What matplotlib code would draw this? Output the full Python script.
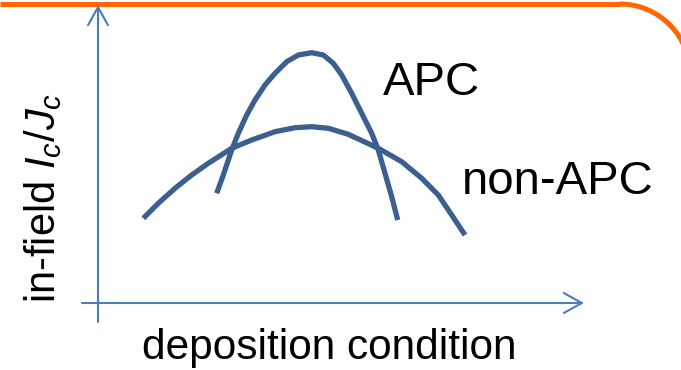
import matplotlib
matplotlib.use("Agg")
import matplotlib.pyplot as plt
from matplotlib.patches import Arc

plt.rcParams['font.family'] = ['Liberation Sans', 'DejaVu Sans']
plt.rcParams['mathtext.fontset'] = 'custom'
plt.rcParams['mathtext.rm'] = 'Liberation Sans'
plt.rcParams['mathtext.it'] = 'Liberation Sans:italic'

# Curves (x: deposition condition, y: in-field Ic/Jc, arbitrary units)
apc_x = [118.7, 125.3, 133.7, 140.3, 148.7, 157, 167, 177, 188.7, 200.3, 213.7,
         225.3, 235.3, 243.7, 253.7, 263.7, 273.7, 280.3, 287, 293.7, 299.7]
apc_y = [109.7, 128, 153, 169.7, 188, 203, 218, 229.7, 241.3, 248, 250.3,
         248, 239.7, 228, 209.7, 189.7, 169.7, 153, 129.7, 106.3, 83]
non_x = [45.3, 60.3, 77, 93.7, 110.3, 133.7, 153.7, 177, 197, 213.7, 230.3,
         250.3, 280.3, 303.7, 323.7, 340.3, 353.7, 367]
non_y = [84.7, 99.7, 114.7, 128, 139.7, 154.7, 163, 171.3, 175.3, 176.3, 174.7,
         168.7, 154.7, 141.3, 124.7, 108, 88, 68]

labels = {"apc": "APC", "non": "non-APC"}
xlabel = "deposition condition"
ylabel = r"in-field $I_c$/$J_c$"

W, H = 681, 370
fig = plt.figure(figsize=(W / 100, H / 100), dpi=100)
ax = fig.add_axes([0, 0, 1, 1])
ax.set_xlim(-98, W - 98)
ax.set_ylim(303 - H, 303)
ax.axis('off')

curve_c = '#3B5F8E'
axis_c = '#4A7EBB'
orange = '#FF6600'

# orange frame decoration
ax.plot([-98, 522], [299, 299], color=orange, lw=3.6, solid_capstyle='butt')
ax.add_patch(Arc((522, 229), 140, 140, theta1=0, theta2=90, color=orange, lw=3.6))

# axes arrows
arrow_kw = dict(arrowstyle='->,head_length=1.3,head_width=0.72', mutation_scale=10,
                lw=1.5, color=axis_c, shrinkA=0, shrinkB=0)
ax.annotate('', xy=(0, 298), xytext=(0, -19), arrowprops=arrow_kw)
ax.annotate('', xy=(486, 0), xytext=(-16, 0), arrowprops=arrow_kw)

ax.plot(apc_x, apc_y, color=curve_c, lw=3.8, solid_capstyle='butt', solid_joinstyle='round')
ax.plot(non_x, non_y, color=curve_c, lw=3.8, solid_capstyle='butt', solid_joinstyle='round')

ax.text(285, 208, labels["apc"], fontsize=34, ha='left', va='baseline')
ax.text(364, 109, labels["non"], fontsize=34, ha='left', va='baseline')
ax.text(231, -56, xlabel, fontsize=30.5, ha='center', va='baseline')
ax.text(-43, 0, ylabel, fontsize=30, rotation=90, rotation_mode='anchor',
        ha='left', va='baseline')

fig.savefig('out.png', dpi=100)
